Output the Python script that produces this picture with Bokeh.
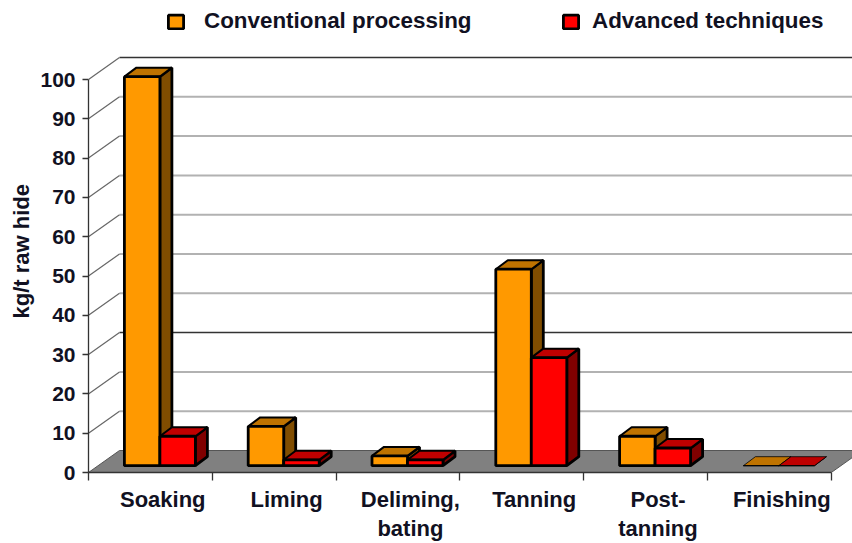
from bokeh.plotting import figure
from bokeh.models import ColumnDataSource, FixedTicker, Legend, LegendItem, LinearAxis, Title
from bokeh.embed import file_html
from bokeh.resources import INLINE

line1 = ["Soaking", "Liming", "Deliming,", "Tanning", "Post-", "Finishing"]
line2 = ["", "", "bating", "", "tanning", ""]
conventional = [99, 10, 2.5, 50, 7.5, 0]
advanced = [7.5, 1.5, 1.5, 27.5, 4.5, 0]
y_ticks = [0, 10, 20, 30, 40, 50, 60, 70, 80, 90, 100]

FONT = "Liberation Sans"
INK = "#111122"
LEFT, BOTTOM = 88, 472
PX_X = 123.8            # pixels per category
PX_Y = 3.93             # pixels per y unit
W, H = 852, 543
X_MAX = (W - LEFT) / PX_X
Y_MAX = BOTTOM / PX_Y

px = lambda n: n / PX_X
py = lambda n: n / PX_Y

p = figure(width=W, height=H, output_backend="svg", toolbar_location=None,
           x_range=(0, X_MAX), y_range=(0, Y_MAX),
           min_border_left=LEFT, min_border_right=0, min_border_top=0,
           min_border_bottom=H - BOTTOM)
p.outline_line_color = None
p.grid.visible = False
p.background_fill_color = "white"

# walls and floor
wx, wy = px(31), py(22)
p.patch([0, 6, 6 + wx, 6 + wx + 1, 0 + wx], [0, 0, wy, wy, wy],
        fill_color="#808080", line_color="#555555", line_width=1)
for v in y_ticks[1:]:
    dark = v == 100
    p.line([wx, X_MAX], [v + wy, v + wy], line_color="#333333" if dark or v == 30 else "#b2b2b2",
           line_width=1.5 if dark or v == 30 else 2)
for v in y_ticks[1:]:
    p.line([0, wx], [v, v + wy], line_color="#666666", line_width=1.2)

# bars
bar_w = px(35.5)
plane_dx, plane_dy = px(9.5), py(6.8)
dx, dy = px(12), py(9)


def series(values, offset, front, top, side):
    x0 = [i + 0.5 + plane_dx + offset * bar_w for i in range(len(values))]
    x1 = [x + bar_w for x in x0]
    y0 = [plane_dy] * len(values)
    y1 = [plane_dy + v for v in values]
    lw = [2.8 if v > 0 else 0.8 for v in values]
    sd = ColumnDataSource(dict(
        xs=[[b, b + dx, b + dx, b] for b in x1],
        ys=[[l, l + dy, h + dy, h] for l, h in zip(y0, y1)], lw=lw))
    td = ColumnDataSource(dict(
        xs=[[a, a + dx, b + dx, b] for a, b in zip(x0, x1)],
        ys=[[h, h + dy, h + dy, h] for h in y1], lw=[min(2, l) for l in lw]))
    fd = ColumnDataSource(dict(left=x0, right=x1, bottom=y0, top=y1, lw=lw))
    p.patches("xs", "ys", source=sd, fill_color=side, line_color="black", line_width="lw")
    p.patches("xs", "ys", source=td, fill_color=top, line_color="black", line_width="lw")
    return p.quad(left="left", right="right", bottom="bottom", top="top", source=fd,
                  fill_color=front, line_color="black", line_width="lw")


r1 = series(conventional, -1, "#FF9900", "#BF7300", "#804D00")
r2 = series(advanced, 0, "#FF0000", "#BF0000", "#800000")

# axes
label_pos = [i + 0.6 for i in range(6)]
yaxis = p.yaxis[0]
yaxis.ticker = FixedTicker(ticks=y_ticks)
yaxis.bounds = (0, 100)
xaxis = p.xaxis[0]
xaxis.ticker = FixedTicker(ticks=label_pos, minor_ticks=list(range(7)))
xaxis.bounds = (0, 6)
xaxis.major_label_overrides = dict(zip(label_pos, line1))
for ax in (xaxis, yaxis):
    ax.axis_line_color = "#333333"
    ax.axis_line_width = 1.3
    ax.major_tick_line_color = "#333333"
    ax.major_tick_line_width = 1.3
    ax.major_tick_in = 0
    ax.major_label_text_font = FONT
    ax.major_label_text_font_style = "bold"
    ax.major_label_text_color = INK
yaxis.major_tick_out = 6
yaxis.minor_tick_line_color = None
yaxis.major_label_standoff = 7
yaxis.major_label_text_font_size = "21px"
xaxis.major_tick_out = 0
xaxis.minor_tick_out = 8
xaxis.minor_tick_in = 0
xaxis.minor_tick_line_color = "#333333"
xaxis.minor_tick_line_width = 1.3
xaxis.major_label_standoff = 6
xaxis.major_label_text_font_size = "22px"

second = LinearAxis(ticker=FixedTicker(ticks=label_pos), bounds=(0, 6),
                    major_label_overrides=dict(zip(label_pos, line2)),
                    axis_line_color=None, major_tick_line_color=None, minor_tick_line_color=None,
                    major_label_standoff=-5, major_label_text_font=FONT,
                    major_label_text_font_style="bold", major_label_text_font_size="22px",
                    major_label_text_color=INK)
p.add_layout(second, "below")

p.add_layout(Title(text="kg/t raw hide", align="left", offset=154, standoff=8,
                   text_font=FONT, text_font_style="bold", text_font_size="22px",
                   text_color=INK), "left")

# legends
for name, rend, gx, standoff in (("Conventional processing", r1, 166, 19),
                                 ("Advanced techniques", r2, 561, 12)):
    lg = Legend(items=[LegendItem(label=name, renderers=[rend], index=0)],
                location=(gx - LEFT, BOTTOM - 34), orientation="horizontal",
                border_line_color=None, background_fill_alpha=0, padding=0, margin=0,
                glyph_width=19, glyph_height=17, label_standoff=standoff,
                label_text_font=FONT, label_text_font_style="bold",
                label_text_font_size="22.4px", label_text_color=INK)
    p.add_layout(lg, "center")

open("out.html", "w").write(file_html(p, INLINE))
